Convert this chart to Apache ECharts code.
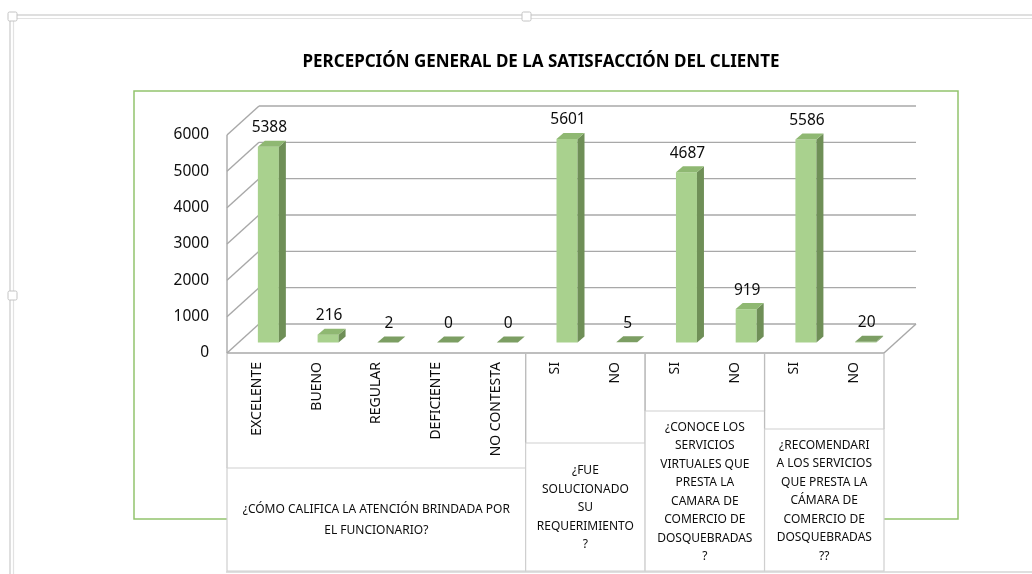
<!DOCTYPE html>
<html>
<head>
<meta charset="UTF-8">
<title>Percepción general</title>
<script src="https://cdn.jsdelivr.net/npm/echarts@6/dist/echarts.min.js"></script>
<style type="text/css">
html, body {
	width: 100%;
	height: 100%;
	padding: 0px;
	margin: 0px;
	background: #fff;
}
</style>
</head>
<body>
	<div id="chart" style="width: 1032px; height: 574px;"></div>

	<script type="text/javascript">
        // datos
        var categories = ['EXCELENTE', 'BUENO', 'REGULAR', 'DEFICIENTE', 'NO CONTESTA', 'SI', 'NO', 'SI', 'NO', 'SI', 'NO'];
        var values = [5388, 216, 2, 0, 0, 5601, 5, 4687, 919, 5586, 20];
        var yTicks = [0, 1000, 2000, 3000, 4000, 5000, 6000];
        var groupNames = [
            '¿CÓMO CALIFICA LA ATENCIÓN BRINDADA POR\nEL FUNCIONARIO?',
            '¿FUE\nSOLUCIONADO\nSU\nREQUERIMIENTO\n?',
            '¿CONOCE LOS\nSERVICIOS\nVIRTUALES QUE\nPRESTA LA\nCAMARA DE\nCOMERCIO DE\nDOSQUEBRADAS\n?',
            '¿RECOMENDARI\nA LOS SERVICIOS\nQUE PRESTA LA\nCÁMARA DE\nCOMERCIO DE\nDOSQUEBRADAS\n??'
        ];
        var groupFrom = [0, 5, 7, 9];
        var groupTo = [4, 6, 8, 10];

        // maquetacion (pixeles)
        var boxTop = [468, 443, 411, 429];
        var boxBottom = 571;
        var boxLineHeight = [21, 18.5, 18.5, 18.5];
        var DX = 32, DY = -29;       // profundidad del piso
        var BOX = 11.5, BOY = -10.5; // posicion de la barra dentro de la profundidad
        var BW = 21, BDX = 7, BDY = -6;

        var FONT = '"Noto Sans", "Open Sans", sans-serif';
        var GRID_COLOR = '#a8a8a8';
        var TXT = '#0d0d0d';

        var myChart = echarts.init(document.getElementById('chart'));

        function edges(api) {
            var band = api.size([1, 0])[0];
            var p0 = api.coord([0, 0]);
            var pn = api.coord([categories.length - 1, 0]);
            return { L: p0[0] - band / 2, R: pn[0] + band / 2, band: band, y0: p0[1] };
        }

        // paredes y piso
        function renderWalls(params, api) {
            var e = edges(api);
            var v = api.value(0);
            var y = api.coord([0, v])[1];
            var st = { stroke: GRID_COLOR, lineWidth: 1.4 };
            var ch = [
                { type: 'line', shape: { x1: e.L, y1: y, x2: e.L + DX, y2: y + DY }, style: st },
                { type: 'line', shape: { x1: e.L + DX, y1: y + DY, x2: e.R + DX, y2: y + DY }, style: st }
            ];
            if (v === 0) {
                ch.push({ type: 'line', shape: { x1: e.R, y1: y, x2: e.R + DX, y2: y + DY }, style: st });
                ch.push({ type: 'line', shape: { x1: e.L, y1: y, x2: e.R, y2: y }, style: st });
            }
            if (v === yTicks[yTicks.length - 1]) {
                ch.push({ type: 'line', shape: { x1: e.L, y1: y, x2: e.L, y2: e.y0 }, style: st });
            }
            return { type: 'group', children: ch };
        }

        // barras 3D
        function renderBar(params, api) {
            var i = api.value(0);
            var v = api.value(1);
            var top = api.coord([i, v]);
            var base = api.coord([i, 0]);
            var xl = top[0] + BOX - BW / 2;
            var xr = xl + BW;
            var yt = top[1] + BOY;
            var yb = base[1] + BOY;
            var ch = [];
            if (yb - yt > 0.5) {
                ch.push({ type: 'rect', shape: { x: xl, y: yt, width: BW, height: yb - yt }, style: { fill: '#a9d18e' } });
                ch.push({ type: 'polygon', shape: { points: [[xr, yb], [xr, yt], [xr + BDX, yt + BDY], [xr + BDX, yb + BDY]] }, style: { fill: '#6f8f57' } });
            }
            ch.push({ type: 'polygon', shape: { points: [[xl, yt], [xr, yt], [xr + BDX, yt + BDY], [xl + BDX, yt + BDY]] },
                style: { fill: (yb - yt > 3) ? '#8fb872' : '#7c9e63' } });
            ch.push({ type: 'text', style: { text: String(v), x: xl + BW / 2 + 1, y: yt - 19, align: 'center', verticalAlign: 'middle',
                font: '15.5px ' + FONT, fill: TXT } });
            return { type: 'group', children: ch };
        }

        // cajas de grupo del eje de categorias
        function renderGroup(params, api) {
            var g = api.value(0);
            var e = edges(api);
            var x1 = api.coord([groupFrom[g], 0])[0] - e.band / 2;
            var x2 = api.coord([groupTo[g], 0])[0] + e.band / 2;
            var ch = [
                { type: 'line', shape: { x1: x1, y1: e.y0, x2: x1, y2: boxTop[g] }, style: { stroke: '#bdbdbd', lineWidth: 1.2 } },
                { type: 'line', shape: { x1: x2, y1: e.y0, x2: x2, y2: boxTop[g] }, style: { stroke: '#bdbdbd', lineWidth: 1.2 } },
                { type: 'rect', shape: { x: x1, y: boxTop[g], width: x2 - x1, height: boxBottom - boxTop[g] },
                    style: { fill: '#fff', stroke: '#cfcfcf', lineWidth: 1.2 } },
                { type: 'text', style: { text: groupNames[g], x: (x1 + x2) / 2, y: (boxTop[g] + boxBottom) / 2 + 1,
                    align: 'center', verticalAlign: 'middle', font: '12px ' + FONT, lineHeight: boxLineHeight[g], fill: TXT } }
            ];
            return { type: 'group', children: ch };
        }

        var option = {
            backgroundColor: '#fff',
            animation: false,
            title: {
                text: 'PERCEPCIÓN GENERAL DE LA SATISFACCIÓN DEL CLIENTE',
                left: 536, top: 49, textAlign: 'center',
                textStyle: { fontFamily: FONT, fontSize: 17, fontWeight: 'bold', color: '#000' }
            },
            grid: { left: 227, right: 148, top: 135, bottom: 221, containLabel: false },
            xAxis: {
                type: 'category',
                data: categories,
                axisLine: { show: false },
                axisTick: { show: false },
                axisLabel: { rotate: 90, margin: 9, interval: 0, fontFamily: FONT, fontSize: 14, color: TXT }
            },
            yAxis: {
                type: 'value', min: 0, max: 6000, interval: 1000,
                axisLine: { show: false }, axisTick: { show: false }, splitLine: { show: false },
                axisLabel: { margin: 18, fontFamily: FONT, fontSize: 15.5, color: TXT,
                    formatter: function (v) { return String(v); } }
            },
            graphic: [
                { type: 'line', z: 0, shape: { x1: 10, y1: 15, x2: 1032, y2: 15 }, style: { stroke: '#d4d4d4', lineWidth: 1.5 } },
                { type: 'line', z: 0, shape: { x1: 17, y1: 18.5, x2: 1032, y2: 18.5 }, style: { stroke: '#e2e2e2', lineWidth: 1.2 } },
                { type: 'line', z: 0, shape: { x1: 10, y1: 15, x2: 10, y2: 574 }, style: { stroke: '#d4d4d4', lineWidth: 1.5 } },
                { type: 'line', z: 0, shape: { x1: 13.5, y1: 20, x2: 13.5, y2: 574 }, style: { stroke: '#e2e2e2', lineWidth: 1.2 } },
                { type: 'rect', z: 1, shape: { x: 8, y: 12, width: 9, height: 9, r: 1.5 }, style: { fill: '#fff', stroke: '#c4c4c4', lineWidth: 1 } },
                { type: 'rect', z: 1, shape: { x: 522, y: 12, width: 9, height: 9, r: 1.5 }, style: { fill: '#fff', stroke: '#c4c4c4', lineWidth: 1 } },
                { type: 'rect', z: 1, shape: { x: 8, y: 291, width: 9, height: 9, r: 1.5 }, style: { fill: '#fff', stroke: '#c4c4c4', lineWidth: 1 } },
                { type: 'rect', z: 0, shape: { x: 134, y: 91, width: 824, height: 428 }, style: { fill: 'none', stroke: '#92c46d', lineWidth: 1.5 } },
                { type: 'line', z: 0, shape: { x1: 226, y1: 572, x2: 1032, y2: 572 }, style: { stroke: '#d4d4d4', lineWidth: 1.5 } }
            ],
            series: [
                {
                    type: 'custom', name: 'paredes', silent: true,
                    data: yTicks.map(function (t) { return [t]; }),
                    encode: { y: 0 },
                    renderItem: renderWalls
                },
                {
                    type: 'custom', name: 'valores',
                    data: values.map(function (v, i) { return [i, v]; }),
                    encode: { x: 0, y: 1 },
                    renderItem: renderBar
                },
                {
                    type: 'custom', name: 'grupos', silent: true,
                    data: groupNames.map(function (n, i) { return [i]; }),
                    encode: { x: 0 },
                    renderItem: renderGroup
                }
            ]
        };

        myChart.setOption(option);
	</script>
</body>
</html>
